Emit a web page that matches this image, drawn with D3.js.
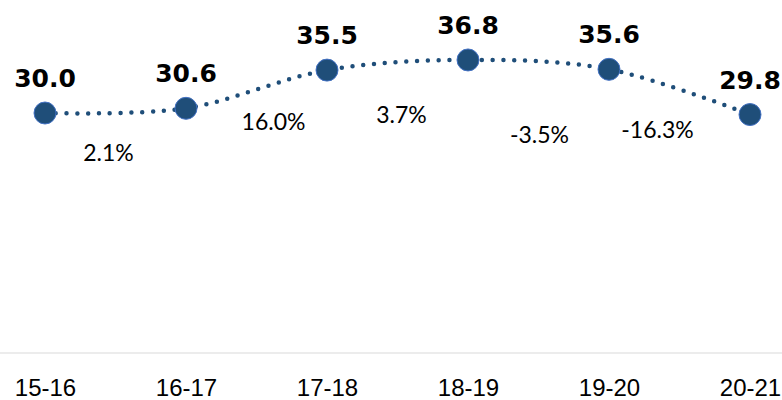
<!DOCTYPE html>
<html>
<head>
<meta charset="utf-8">
<script src="https://cdn.jsdelivr.net/npm/d3@7"></script>
<style>
  body { margin: 0; background: #fff; }
  svg { display: block; font-family: "Lato", "Open Sans", sans-serif; }
</style>
</head>
<body>
<svg width="782" height="400"></svg>
<script>
const seasons = ["15-16", "16-17", "17-18", "18-19", "19-20", "20-21"];
const values = [30.0, 30.6, 35.5, 36.8, 35.6, 29.8];
const changes = ["2.1%", "16.0%", "3.7%", "-3.5%", "-16.3%"];

// nudges for the change labels, relative to the segment midpoint
const changeNudge = [[-7, 50], [17, 41], [4, 58], [1, 78], [-22, 46]];

const svg = d3.select("svg");
const axisY = 353;

const x = d3.scalePoint()
  .domain(seasons)
  .range([45, 750]);

const y = d3.scaleLinear()
  .domain([0, 40])
  .range([347, 35]);

// x axis
const xAxis = svg.append("g")
  .attr("transform", `translate(0, ${axisY})`)
  .call(d3.axisBottom(x).tickSize(0).tickSizeOuter(0));
xAxis.select(".domain").remove();
xAxis.append("line")
  .attr("x1", 0).attr("x2", 782)
  .attr("stroke", "#d9d9d9")
  .attr("stroke-width", 1);
xAxis.selectAll("text")
  .attr("y", 43)
  .attr("dy", 0)
  .attr("fill", "#000")
  .style("font-size", "24px")
  .style("font-family", null);

// dotted smoothed line
const line = d3.line()
  .x((d, i) => x(seasons[i]))
  .y(d => y(d))
  .curve(d3.curveCatmullRom.alpha(0));

svg.append("path")
  .datum(values)
  .attr("d", line)
  .attr("fill", "none")
  .attr("stroke", "#1f4e79")
  .attr("stroke-width", 4.5)
  .attr("stroke-linecap", "round")
  .attr("stroke-dasharray", "0 10.8");

// markers
svg.selectAll("circle")
  .data(values)
  .enter()
  .append("circle")
  .attr("cx", (d, i) => x(seasons[i]))
  .attr("cy", d => y(d))
  .attr("r", 11)
  .attr("fill", "#1f4e79")
  .attr("stroke", "#4472c4")
  .attr("stroke-width", 1);

// value labels
svg.selectAll(".val")
  .data(values)
  .enter()
  .append("text")
  .attr("class", "val")
  .attr("x", (d, i) => x(seasons[i]))
  .attr("y", d => y(d) - 26)
  .attr("text-anchor", "middle")
  .style("font-family", "'DejaVu Sans', sans-serif")
  .style("font-size", "25px")
  .style("font-weight", "bold")
  .text(d => d.toFixed(1));

// change labels between points
svg.selectAll(".chg")
  .data(changes)
  .enter()
  .append("text")
  .attr("class", "chg")
  .attr("x", (d, i) => (x(seasons[i]) + x(seasons[i + 1])) / 2 + changeNudge[i][0])
  .attr("y", (d, i) => (y(values[i]) + y(values[i + 1])) / 2 + changeNudge[i][1])
  .attr("text-anchor", "middle")
  .style("font-size", "23px")
  .text(d => d);
</script>
</body>
</html>
